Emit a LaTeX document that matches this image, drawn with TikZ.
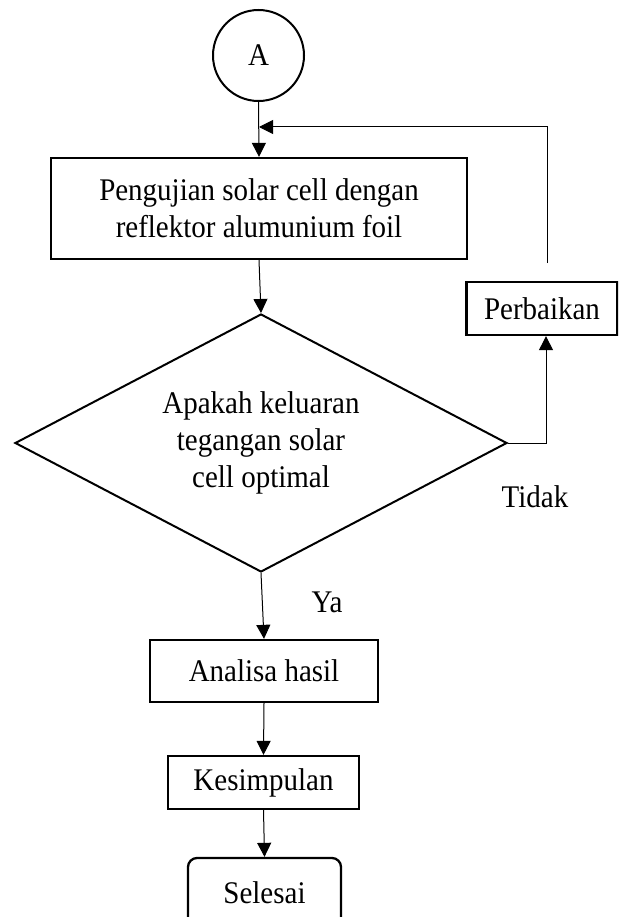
\documentclass[tikz,border=0pt]{standalone}
\usepackage{fontspec}
\setmainfont{Liberation Serif}[FakeStretch=0.92]
\usetikzlibrary{arrows.meta,shapes.geometric}
\tikzset{
  box/.style={draw, line width=2.3pt, inner sep=0pt, align=center},
  conn/.style={line width=1pt, -{Triangle[length=14pt,width=14pt]}},
  lbl/.style={inner sep=0pt}
}
\begin{document}
\begin{tikzpicture}[x=1pt,y=-1pt,font=\fontsize{31.5}{37}\selectfont]
\useasboundingbox (0,0) rectangle (618,917);
\clip (0,0) rectangle (618,917);
\node[draw, circle, line width=2pt, minimum size=91pt, inner sep=0pt] (a) at (258.5,55.5) {A};
\node[box, minimum width=416pt, minimum height=101pt] (peng) at (259,208.5) {Pengujian solar cell dengan\\reflektor alumunium foil};
\node[draw, diamond, shape aspect=1.907, line width=2pt, inner sep=0pt, minimum width=492pt, minimum height=258pt, align=center] (dia) at (261,443) {Apakah keluaran\\tegangan solar\\cell optimal};
\node[box, minimum width=151pt, minimum height=53pt] (perb) at (542,308.5) {Perbaikan};
\node[box, minimum width=228pt, minimum height=62pt] (anal) at (264,671) {Analisa hasil};
\node[box, minimum width=191pt, minimum height=53pt] (kes) at (263.5,782.5) {Kesimpulan};
\node[box, rounded corners=9pt, minimum width=153pt, minimum height=72pt] (sel) at (264.5,894) {};
\node[lbl] (seltxt) at (264.5,893) {Selesai};
\node[lbl] (ya) at (327,602) {Ya};
\node[lbl] (tidak) at (535,497) {Tidak};
\coordinate (fbstart) at (547,263);
\coordinate (fbtop) at (547,127);
\coordinate (fbend) at (259,127);
\draw[conn] (a.south) -- (peng.north);
\draw[conn] (peng.south) -- (dia.north);
\draw[conn] (dia.south) -- (anal.north);
\draw[conn] (anal.south) -- (kes.north);
\draw[conn] (kes.south) -- (sel.north);
\draw[conn] (dia.east) -| ([xshift=4pt]perb.south);
\draw[conn] (fbstart) -- (fbtop) -- (fbend);
\end{tikzpicture}
\end{document}
